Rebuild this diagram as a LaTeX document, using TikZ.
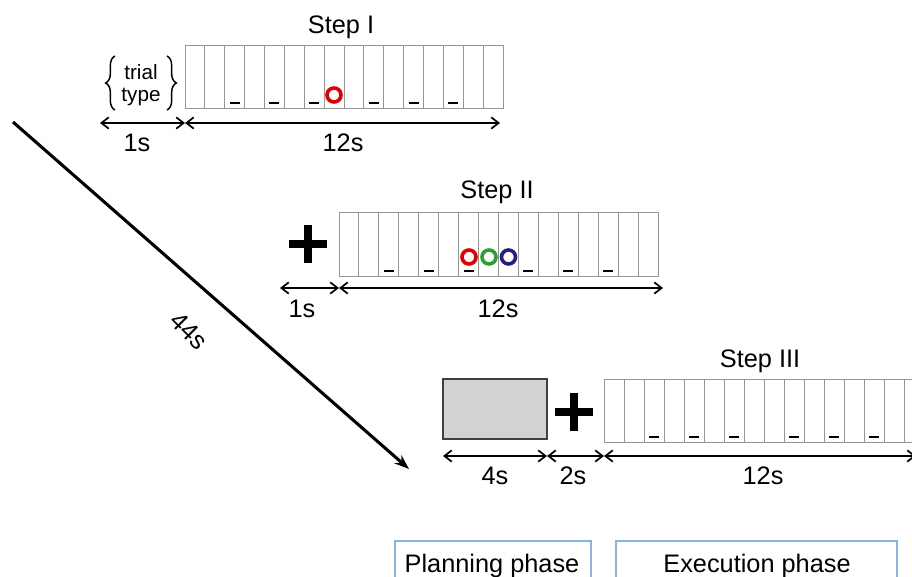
\documentclass[tikz,border=0pt]{standalone}
\usepackage{fontspec}
\setmainfont{Liberation Sans}
\usetikzlibrary{arrows.meta,decorations.pathreplacing}
\definecolor{ringred}{RGB}{225,0,0}
\definecolor{ringgreen}{RGB}{40,160,50}
\definecolor{ringblue}{RGB}{40,30,130}
\definecolor{gridgray}{RGB}{150,150,150}
\definecolor{boxgray}{RGB}{210,210,210}
\definecolor{phaseblue}{RGB}{135,180,225}
\newcommand\trialgrid[4]{%
  \draw[gridline] (#1,#3) rectangle ({#1+16*#2},#4);
  \foreach \i in {1,...,15} \draw[gridline] ({#1+\i*#2},#3) -- ({#1+\i*#2},#4);
  \foreach \i in {2,4,6,9,11,13} \draw[dashmark] ({#1+(\i+0.5)*#2-5},#4-5) -- ++(10,0);
}
\begin{document}
\begin{tikzpicture}[x=0.75pt,y=-0.75pt,
  gridline/.style={draw=gridgray,line width=0.7pt},
  dashmark/.style={draw=black,line width=1.6pt},
  dimarrow/.style={{Straight Barb[length=5.5pt,width=8.5pt]}-{Straight Barb[length=5.5pt,width=8.5pt]},line width=1.3pt},
  lbl/.style={font=\fontsize{19}{22}\selectfont,anchor=base,inner sep=0pt},
  small/.style={font=\fontsize{15.5}{18}\selectfont,anchor=base,inner sep=0pt},
  ring/.style={line width=2.7pt},
  plusbar/.style={line width=5.3pt},
  phaseline/.style={draw=phaseblue,line width=0.9pt},
  bracepath/.style={decorate,decoration={brace,amplitude=7pt},line width=1.1pt}]
\useasboundingbox (0,0) rectangle (912,577);

% ---------- Step I ----------
\node[lbl] (t1) at (341,34) {Step I};
\trialgrid{185}{19.875}{45}{108}
\draw[ring,ringred] (334,95) circle (7);
\draw[bracepath] (115,110) -- (115,56);
\draw[bracepath] (167,56) -- (167,110);
\node[small] (trial) at (141,80) {trial};
\node[small] (type) at (141,102) {type};
\coordinate (a1l) at (100,123);
\coordinate (a1m) at (185,123);
\coordinate (a1r) at (500,123);
\draw[dimarrow] (a1l) -- (a1m);
\draw[dimarrow] (a1m) -- (a1r);
\node[lbl] (l1a) at (137,152) {1s};
\node[lbl] (l1b) at (343,152) {12s};

% ---------- Step II ----------
\node[lbl] (t2) at (497,199) {Step II};
\trialgrid{339}{19.94}{212}{276}
\draw[ring,ringred] (469,257) circle (7);
\draw[ring,ringgreen] (489,257) circle (7);
\draw[ring,ringblue] (508.5,257) circle (7);
\coordinate (p2) at (308,244);
\draw[plusbar] ([xshift=-14.3pt]p2) -- ([xshift=14.3pt]p2);
\draw[plusbar] ([yshift=-14.3pt]p2) -- ([yshift=14.3pt]p2);
\coordinate (a2l) at (280,288);
\coordinate (a2m) at (339,288);
\coordinate (a2r) at (663,288);
\draw[dimarrow] (a2l) -- (a2m);
\draw[dimarrow] (a2m) -- (a2r);
\node[lbl] (l2a) at (302,317) {1s};
\node[lbl] (l2b) at (498,317) {12s};

% ---------- Step III ----------
\node[lbl] (t3) at (760,367) {Step III};
\draw[draw=black!75,fill=boxgray,line width=0.8pt] (443,379) rectangle (547,439);
\coordinate (p3) at (574,412);
\draw[plusbar] ([xshift=-14.3pt]p3) -- ([xshift=14.3pt]p3);
\draw[plusbar] ([yshift=-14.3pt]p3) -- ([yshift=14.3pt]p3);
\trialgrid{604}{20}{379}{442}
\coordinate (a3l) at (443,456);
\coordinate (a3m) at (547,456);
\coordinate (a3n) at (604,456);
\coordinate (a3r) at (916,456);
\draw[dimarrow] (a3l) -- (a3m);
\draw[dimarrow] (a3m) -- (a3n);
\draw[dimarrow] (a3n) -- (a3r);
\node[lbl] (l3a) at (495,484) {4s};
\node[lbl] (l3b) at (573,484) {2s};
\node[lbl] (l3c) at (763,484) {12s};

% ---------- diagonal time arrow ----------
\coordinate (d0) at (13,122);
\coordinate (d1) at (409,469);
\draw[line width=2.3pt,-{Stealth[length=11pt,width=8pt]}] (d0) -- (d1);
\node[font=\fontsize{19}{22}\selectfont,rotate=-45,inner sep=0pt] (tot) at (189,331) {44s};

% ---------- phases ----------
\draw[phaseline] (395,541) rectangle (591,610);
\draw[phaseline] (616,541) rectangle (897,610);
\node[lbl] (plan) at (492,572) {Planning phase};
\node[lbl] (exec) at (757,572) {Execution phase};
\end{tikzpicture}
\end{document}
